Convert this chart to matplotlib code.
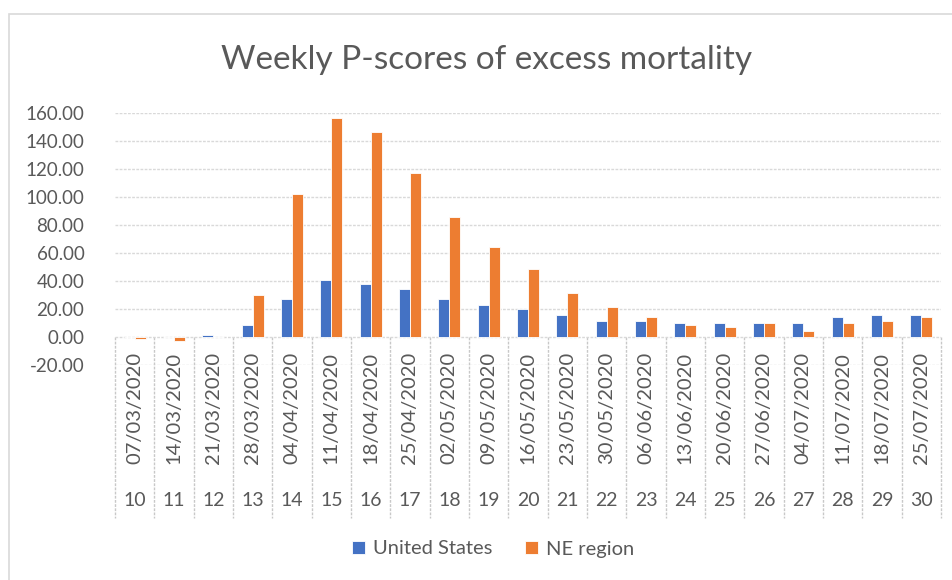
import numpy as np
from matplotlib import pyplot as plt
from matplotlib.patches import Rectangle

# data
weeks = [10, 11, 12, 13, 14, 15, 16, 17, 18, 19, 20,
         21, 22, 23, 24, 25, 26, 27, 28, 29, 30]
dates = ["07/03/2020", "14/03/2020", "21/03/2020", "28/03/2020", "04/04/2020",
         "11/04/2020", "18/04/2020", "25/04/2020", "02/05/2020", "09/05/2020",
         "16/05/2020", "23/05/2020", "30/05/2020", "06/06/2020", "13/06/2020",
         "20/06/2020", "27/06/2020", "04/07/2020", "11/07/2020", "18/07/2020",
         "25/07/2020"]
us = [0, 0, 1.5, 8.8, 27.4, 40.4, 37.6, 34.5, 27.4, 23.1, 20.0,
      16.0, 11.7, 11.7, 10.2, 10.2, 10.2, 10.2, 14.5, 16.0, 16.0]
ne = [-1.5, -2.9, 0, 30.2, 102.1, 156.4, 146.4, 117.4, 86.0, 64.5, 48.6,
      31.7, 21.4, 14.3, 8.8, 7.4, 10.2, 4.5, 10.2, 11.7, 14.5]

TXT = "#595959"
GRID = "#d9d9d9"
plt.rcParams['font.family'] = ['Lato', 'DejaVu Sans']

fig = plt.figure(figsize=(9.53, 5.8), dpi=100)
W, H = 953, 580
ax = fig.add_axes([115 / W, 1 - 365 / H, (941 - 115) / W, (365 - 113) / H])

x = np.arange(len(weeks))
bw = 0.28
ax.bar(x + 0.5 - bw / 2, us, bw, color="#4472C4", edgecolor="white",
       linewidth=0.6, label="United States", zorder=3)
ax.bar(x + 0.5 + bw / 2, ne, bw, color="#ED7D31", edgecolor="white",
       linewidth=0.6, label="NE region", zorder=3)

ax.set_xlim(0, len(weeks))
ax.set_ylim(-20, 160)
ax.set_yticks(np.arange(-20, 161, 20))
ax.set_yticklabels([f"{v:.2f}" for v in np.arange(-20, 161, 20)])
ax.tick_params(axis="y", length=0, pad=22, labelsize=13.5, labelcolor=TXT)
ax.set_xticks([])
for s in ax.spines.values():
    s.set_visible(False)
ax.yaxis.grid(True, color=GRID, linestyle=(0, (2, 1)), linewidth=1, zorder=0)

# multi-level category axis hanging below zero
ppu = (337 - 113) / 160.0
y_bot = -(518 - 337) / ppu
for i in range(len(weeks) + 1):
    ax.plot([i, i], [0, y_bot], color="#c8c8c8", linestyle=(0, (2, 1)),
            linewidth=1, clip_on=False, zorder=1)
y_date = -(352 - 337) / ppu
y_week = -(500 - 337) / ppu
for i, (d, w) in enumerate(zip(dates, weeks)):
    ax.text(i + 0.5, y_date, d, rotation=90, ha="center", va="top",
            fontsize=14.5, color=TXT, clip_on=False)
    ax.text(i + 0.5, y_week, str(w), ha="center", va="center",
            fontsize=14, color=TXT, clip_on=False)

fig.text(487 / W, 1 - 60 / H, "Weekly P-scores of excess mortality",
         ha="center", va="center", fontsize=24, color=TXT)

fig.legend(loc="center", bbox_to_anchor=(493 / W, 1 - 549 / H), ncol=2,
           frameon=False, fontsize=14.5, labelcolor=TXT, handlelength=0.65,
           handleheight=0.65, handletextpad=0.4, columnspacing=1.6)

# outer chart border
fig.add_artist(Rectangle((9 / W, -0.1), 2, 1 - 14 / H + 0.1,
                         transform=fig.transFigure, fill=False,
                         edgecolor=GRID, linewidth=1.2))

fig.savefig("out.png", dpi=100)
